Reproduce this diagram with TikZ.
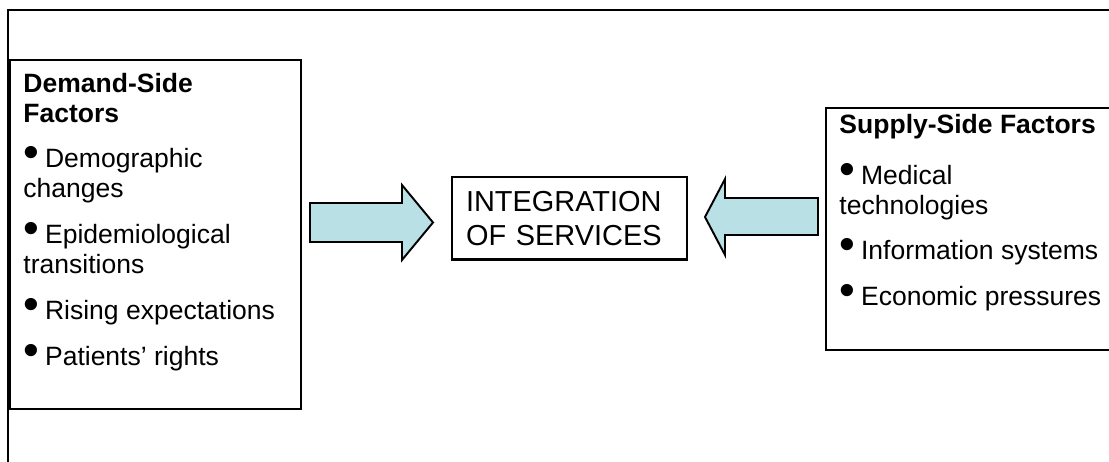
\documentclass[tikz,border=0pt]{standalone}
\usepackage{graphicx}
\usepackage{fontspec}
\setmainfont{Liberation Sans}

\definecolor{arrowfill}{RGB}{185,224,228}
\newcommand{\bul}{\scalebox{1.7}{\textbullet}\hspace{0.22em}}

\tikzset{
    factortext/.style={anchor=north west,inner sep=0pt,align=left,
        font=\fontsize{11}{12.45}\selectfont},
    pusharrow/.style={draw=black,line width=0.8pt,fill=arrowfill,line join=miter},
    boxline/.style={line width=0.9pt}
}

\begin{document}
\begin{tikzpicture}[x=0.415pt,y=-0.415pt]
                \useasboundingbox (0,0) rectangle (1109,462);
                \clip (0,0) rectangle (1109,462);
                %% outer frame
                \draw[line width=0.8pt] (8,10) rectangle (1130,480);
                %% factor boxes
                \draw[boxline] (10,60) rectangle (301,409);
                \draw[boxline] (826,108) rectangle (1130,350);
                \node[factortext] (demand) at (23,73) {%
                    \textbf{Demand-Side}\\\textbf{Factors}\\[6.3pt]
                    \bul Demographic\\changes\\[6.5pt]
                    \bul Epidemiological\\transitions\\[6.8pt]
                    \bul Rising expectations\\[6.3pt]
                    \bul Patients’ rights};
                \node[factortext] (supply) at (839,114) {%
                    \textbf{Supply-Side Factors}\\[8.5pt]
                    \bul Medical\\technologies\\[6.5pt]
                    \bul Information systems\\[6.3pt]
                    \bul Economic pressures};
                %% centre box
                \node[draw,boxline,anchor=north west,inner sep=5.8pt,
                      minimum height=34pt,text width=85.9pt,align=left,
                      font=\fontsize{12}{14.1}\selectfont] (integ) at (451,176)
                    {INTEGRATION\\OF SERVICES};
                %% block arrows
                \draw[pusharrow] (310,203) -- (402,203) -- (402,185) -- (433,222.5)
                    -- (402,260) -- (402,242) -- (310,242) -- cycle;
                \draw[pusharrow] (818,198) -- (725,198) -- (725,179) -- (705,217)
                    -- (725,255) -- (725,235) -- (818,235) -- cycle;
            \end{tikzpicture}
\end{document}
